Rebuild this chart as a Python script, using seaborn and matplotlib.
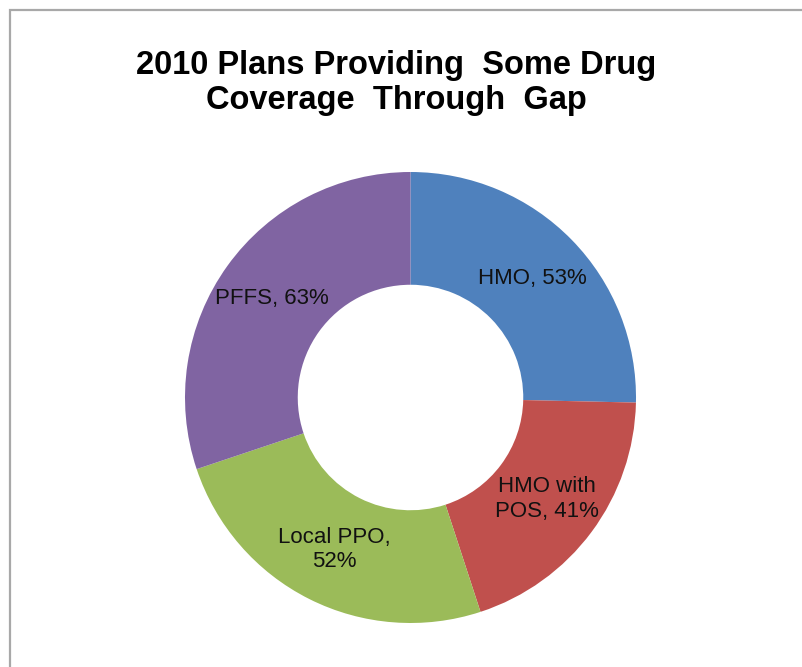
import matplotlib
matplotlib.use("Agg")
import matplotlib.pyplot as plt
import numpy as np
import seaborn as sns
from matplotlib.patches import Rectangle

# Share of 2010 plans providing some drug coverage through the gap
plan_types = ["HMO", "HMO with POS", "Local PPO", "PFFS"]
coverage_pct = [53, 41, 52, 63]
slice_labels = ["HMO, 53%", "HMO with\nPOS, 41%", "Local PPO,\n52%", "PFFS, 63%"]
slice_colors = ["#4F81BD", "#C0504D", "#9BBB59", "#8064A2"]

title_text = "2010 Plans Providing  Some Drug\nCoverage  Through  Gap"

sns.set_theme(style="white")
plt.rcParams["font.family"] = ["Liberation Sans", "DejaVu Sans"]

W, H = 802, 667
fig = plt.figure(figsize=(W / 100, H / 100), dpi=100)
ax = fig.add_axes([0, 0, 1, 1])

# Outer frame of the chart area
fig.patches.append(Rectangle((10 / W, -0.1), 1.2, (H - 10) / H + 0.1,
                             transform=fig.transFigure, fill=False,
                             edgecolor="#a8a8a8", linewidth=1.6))

palette = sns.color_palette(slice_colors)
cx, cy, radius = 410.5, H - 397.5, 225.5
wedges, _ = ax.pie(coverage_pct, colors=palette, startangle=90,
                   counterclock=False, center=(cx, cy), radius=radius,
                   wedgeprops=dict(width=radius * 0.5, linewidth=0),
                   frame=True)
ax.set_xlim(0, W)
ax.set_ylim(0, H)
ax.set_aspect("equal")
ax.set_axis_off()

# Slice labels at the middle of the ring
for wedge, text in zip(wedges, slice_labels):
    mid = np.deg2rad((wedge.theta1 + wedge.theta2) / 2)
    r = radius * 0.755
    ax.text(cx + r * np.cos(mid), cy + r * np.sin(mid), text,
            ha="center", va="center", fontsize=16, color="#111111",
            linespacing=1.2)

fig.text(396 / W, 1 - 83 / H, title_text, ha="center", va="center",
         fontsize=23.5, fontweight="bold", color="black", linespacing=1.18)

fig.savefig("out.png", dpi=100)
